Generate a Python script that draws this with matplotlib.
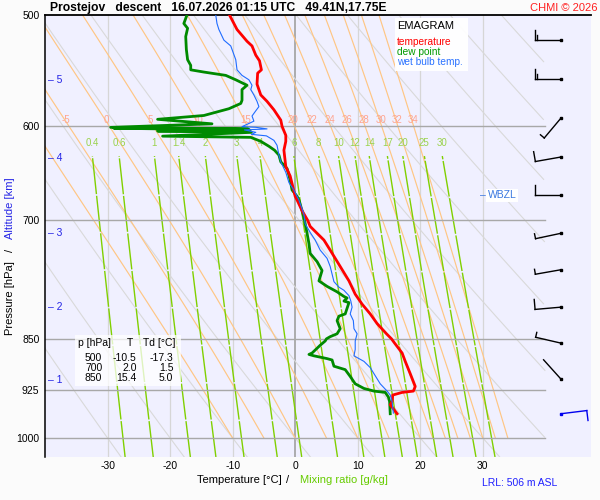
import numpy as np
import matplotlib
matplotlib.use("Agg")
import matplotlib.pyplot as plt
from matplotlib.lines import Line2D
from matplotlib.patches import Rectangle
from matplotlib.transforms import IdentityTransform
from matplotlib.ticker import NullLocator

plt.rcParams['font.family'] = ['Liberation Sans', 'DejaVu Sans']
plt.rcParams['axes.unicode_minus'] = False

# --- sounding profiles: pressure [hPa] / temperature [deg C] ---
temp_p = [500, 512, 522, 526, 534, 539, 547, 550, 560, 570, 576, 584, 594, 600,
          609, 615, 624, 641, 651, 659, 673, 677, 689, 700, 707, 715, 723, 735,
          755, 773, 790, 803, 816, 829, 843, 850, 856, 870, 882, 900, 919, 926,
          928, 932, 942, 947, 961]
temp_c = [-10.5, -9.3, -7.7, -6.9, -6.3, -5.7, -5.4, -6.0, -6.1, -5.5, -4.5, -3.4,
          -2.3, -2.1, -1.5, -1.5, -1.8, -1.5, -0.8, -0.5, 0.0, 0.3, 1.1, 2.0, 2.4,
          3.5, 4.6, 5.6, 7.2, 8.6, 9.6, 10.7, 12.0, 13.1, 14.6, 15.4, 15.9, 17.1,
          17.6, 18.4, 19.2, 18.9, 17.1, 15.6, 15.5, 15.2, 16.3]

dewp_p = [500, 507, 511, 518, 529, 538, 543, 547, 549, 552, 556, 561, 565, 575,
          578, 583, 589.5, 593.2, 597.6, 601.1, 602.7, 601.9, 603.9, 604.7, 606,
          609.8, 611, 615, 620, 624, 629, 636, 643, 650, 657, 666, 673, 677, 689,
          700, 715, 727, 739, 749, 760, 773, 780, 787, 793, 795, 799, 801, 816,
          819, 825, 836, 843, 847, 850, 853, 859, 870, 872, 874, 878, 880, 889,
          894, 904, 915, 922, 926, 928, 935, 942, 961]
dewp_c = [-17.3, -17.8, -17.2, -17.5, -17.4, -17.2, -16.7, -16.7, -14.6, -11.1,
          -9.5, -7.7, -8.5, -8.5, -8.7, -10.6, -14.6, -22.0, -13.3, -29.5, -7.5,
          -29.0, -7.2, -22.0, -7.0, -21.2, -7.1, -5.5, -4.2, -3.3, -2.6, -2.3,
          -1.3, -1.0, -0.75, -0.5, 0.3, 0.6, 1.1, 1.5, 1.9, 2.2, 2.4, 3.5, 4.3,
          3.8, 5.1, 6.7, 7.8, 8.3, 7.8, 8.6, 8.0, 7.0, 6.7, 7.2, 6.7, 5.6, 5.0,
          4.8, 4.0, 2.7, 2.2, 3.0, 5.1, 5.9, 6.2, 8.0, 8.8, 9.6, 11.0, 12.6, 14.4,
          14.9, 15.1, 15.2]

wetb_p = [500, 507, 512, 521, 526, 538, 547, 552, 556, 561, 565, 570, 576, 581,
          585, 590, 595, 600.4, 601, 602.6, 603.6, 606, 608, 609.5, 614, 619,
          629, 636, 647, 658, 666, 673, 677, 693, 704, 714, 723, 735, 745, 755,
          774, 781, 785, 792, 799, 807, 816, 825, 836, 843, 853, 865, 874, 882,
          891, 900, 915, 926, 932, 942, 960]
wetb_c = [-12.7, -12.5, -12.2, -11.4, -10.3, -9.5, -9.3, -8.5, -7.4, -6.9, -7.1,
          -6.6, -6.1, -5.8, -6.3, -6.9, -6.6, -8.5, -6.3, -4.5, -8.1, -6.3, -7.0,
          -4.6, -3.4, -2.9, -2.6, -2.3, -1.5, -1.0, -0.2, 0.3, 0.6, 1.4, 1.6, 2.4,
          3.2, 4.0, 5.1, 5.6, 6.2, 7.0, 7.8, 8.6, 8.9, 9.1, 8.8, 9.3, 9.4, 9.9,
          9.6, 9.6, 9.4, 11.0, 12.0, 12.6, 13.6, 14.7, 15.2, 15.5, 15.7]

# --- winds: pressure, direction [deg], speed [kt] ---
wind_p = [521, 555, 592, 631, 671, 715, 759, 807, 856, 908]
wind_dir = [270, 270, 220, 260, 270, 258, 260, 265, 283, 318]
wind_kt = [15, 15, 5, 10, 10, 5, 5, 10, 5, 2]
sfc_p, sfc_dir, sfc_kt = 961, 83, 10

# --- table ---
table_p = [500, 700, 850]
table_t = [-10.5, 2.0, 15.4]
table_td = [-17.3, 1.5, 5.0]

alt_km = [5, 4, 3, 2, 1]
alt_p = [556, 632, 715, 807, 909]
wbzl_p = 672

# --- diagram furniture ---
isobars = [600, 700, 850, 925, 1000]
isotherms = [-30, -20, -10, 0, 10, 20, 30]
dry_t0 = list(range(-30, 120, 10))
moist_t0 = [-10, -5, 0, 5, 10, 15, 20, 22, 24, 26, 28, 30, 32, 34]
moist_labeled = [-5, 0, 5, 10, 15, 20, 22, 24, 26, 28, 30, 32, 34]
mix_ratios = [0.4, 0.6, 1, 1.4, 2, 3, 4, 6, 8, 10, 12, 14, 17, 20, 25, 30]

P_BOT, P_TOP = 1031.6, 500
T_MIN, T_MAX, T_RIGHT = -40, 40, 47.3
barb_x = 42.5

RD, CP, LV, EPS = 287.04, 1005.7, 2.501e6, 0.622


def esat(tc):
    return 6.112 * np.exp(17.67 * tc / (tc + 243.5))


def moist_rate(tk, p):
    es = esat(tk - 273.15)
    rs = EPS * es / (p - es)
    return (RD * tk + LV * rs) / (p * (CP + LV ** 2 * rs * EPS / (RD * tk ** 2)))


def moist_adiabat(t0, pres):
    tk = [t0 + 273.15]
    for i in range(1, len(pres)):
        h = pres[i] - pres[i - 1]
        t, p = tk[-1], pres[i - 1]
        k1 = moist_rate(t, p)
        k2 = moist_rate(t + h * k1 / 2, p + h / 2)
        k3 = moist_rate(t + h * k2 / 2, p + h / 2)
        k4 = moist_rate(t + h * k3, p + h)
        tk.append(t + h * (k1 + 2 * k2 + 2 * k3 + k4) / 6)
    return np.array(tk) - 273.15


def mix_temp(w, p):
    e = w / 1000 * p / (EPS + w / 1000)
    lg = np.log(e / 6.112)
    return 243.5 * lg / (17.67 - lg)


fig = plt.figure(figsize=(6, 5), dpi=100, facecolor='#fbfbfb')
ax = fig.add_axes([45 / 600, 1 - 457 / 500, 546 / 600, 442 / 500])
ax.set_facecolor('#f0f0ff')
ax.set_yscale('log')
ax.set_xlim(T_MIN, T_RIGHT)
ax.set_ylim(P_BOT, P_TOP)

for s in ['right', 'bottom']:
    ax.spines[s].set_visible(False)
ax.spines['top'].set_linewidth(1.3)
ax.spines['left'].set_linewidth(1.1)

ax.set_yticks([500] + isobars)
ax.set_yticklabels([str(p) for p in [500] + isobars], fontsize=7.5)
ax.yaxis.set_minor_locator(NullLocator())
ax.set_xticks(isotherms)
ax.set_xticklabels([str(t) for t in isotherms], fontsize=7.5)
ax.tick_params(length=0, pad=4)
ax.tick_params(axis='x', pad=3)

# isotherms and isobars
for t in isotherms:
    ax.plot([t, t], [P_BOT, P_TOP], color='#a0a0a0' if t == 0 else '#d6d6d6',
            lw=1.2 if t == 0 else 0.9, zorder=1)
for p in isobars:
    ax.plot([T_MIN, T_MAX], [p, p], color='#a8a8a8', lw=1.0, zorder=1.5)

# dry adiabats
pp = np.geomspace(P_BOT, P_TOP, 200)
for t0 in dry_t0:
    tt = (t0 + 273.15) * (pp / 1000) ** 0.2857 - 273.15
    tt = np.where(tt > T_MAX, np.nan, tt)
    ax.plot(tt, pp, color='#d9d9d9', lw=0.8, zorder=1.2)

# saturated adiabats
pm = np.linspace(1000, P_TOP, 250)
for t0 in moist_t0:
    tt = moist_adiabat(t0, pm)
    ax.plot(tt, pm, color='#ffc684', lw=0.85, zorder=1.3)
    if t0 in moist_labeled:
        tl = np.interp(594, pm[::-1], tt[::-1])
        ax.text(tl + 0.2, 594, str(t0), color='#ffa48e', fontsize=7,
                ha='center', va='center', zorder=2)

# mixing ratio lines
pw = np.geomspace(P_BOT, 630, 60)
for w in mix_ratios:
    ax.plot(mix_temp(w, pw), pw, color='#80d000', lw=1.0,
            dashes=(26, 1.2), zorder=1.4)
    ax.text(mix_temp(w, 630), 617, '%g' % w, color='#9ad24c', fontsize=7,
            ha='center', va='center', zorder=2)

# profiles
ax.plot(dewp_c, dewp_p, color='#008a00', lw=2.0, zorder=4)
ax.plot(temp_c, temp_p, color='#ff0000', lw=2.0, zorder=5)
ax.plot(wetb_c, wetb_p, color='#1f6cff', lw=0.8, zorder=6)

# altitude marks and wet bulb zero
for km, p in zip(alt_km, alt_p):
    ax.text(-39.6, p, '\u2013 %d' % km, color='#2525e6', fontsize=7.5,
            va='center', ha='left', zorder=3)
ax.text(29.6, wbzl_p, '\u2013', color='#3a78e0', fontsize=7.5, va='center',
        ha='left', zorder=3)
ax.text(30.8, wbzl_p, 'WBZL', color='#3a78e0', fontsize=7.5, va='center',
        ha='left', zorder=3,
        bbox=dict(boxstyle='square,pad=0.15', fc='white', ec='none'))


def draw_barb(p, dd, kt, color):
    px, py = ax.transData.transform((barb_x, p))
    staff, full, half, gap = 26, 10, 5, 2.2
    r = np.deg2rad(dd)
    ux, uy = np.sin(r), np.cos(r)
    nx, ny = uy, -ux
    ex, ey = px + staff * ux, py + staff * uy
    segs = [([px, ex], [py, ey])]
    pos = 0
    ticks = [full] * int(kt // 10) + [half] * int((kt % 10) // 5)
    for ln in ticks:
        bx, by = ex - pos * ux, ey - pos * uy
        segs.append(([bx, bx + ln * nx], [by, by + ln * ny]))
        pos += gap
    for xs, ys in segs:
        fig.add_artist(Line2D(xs, ys, color=color, lw=1.0,
                              transform=IdentityTransform()))
    fig.add_artist(Line2D([px], [py], marker='s', ms=1.6, color=color,
                          transform=IdentityTransform()))


for p, dd, kt in zip(wind_p, wind_dir, wind_kt):
    draw_barb(p, dd, kt, 'black')
draw_barb(sfc_p, sfc_dir, sfc_kt, '#0000ee')

# legend box
fig.add_artist(Rectangle((395 / 600, 1 - 71 / 500), 73 / 600, 53 / 500,
                         transform=fig.transFigure, fc='white', ec='none', alpha=0.95))
fig.text(397 / 600, 1 - 26 / 500, 'EMAGRAM', fontsize=8, va='center')
fig.text(397 / 600, 1 - 42 / 500, 'temperature', color='#ff0000', fontsize=7.3, va='center')
fig.text(397 / 600, 1 - 52 / 500, 'dew point', color='#009a00', fontsize=7.3, va='center')
fig.text(397 / 600, 1 - 62 / 500, 'wet bulb temp.', color='#2a72ff', fontsize=7.3, va='center')

# table box
fig.add_artist(Rectangle((75 / 600, 1 - 386 / 500), 106 / 600, 51 / 500,
                         transform=fig.transFigure, fc='white', ec='none', alpha=0.75))
fig.text(78 / 600, 1 - 343 / 500, 'p [hPa]', fontsize=7.5, va='center')
fig.text(130 / 600, 1 - 343 / 500, 'T', fontsize=7.5, va='center', ha='center')
fig.text(143 / 600, 1 - 343 / 500, 'Td [\u00b0C]', fontsize=7.5, va='center')
for i, (p, t, td) in enumerate(zip(table_p, table_t, table_td)):
    y = 1 - (358.3 + 10 * i) / 500
    fig.text(102.3 / 600, y, str(p), fontsize=7.5, va='center', ha='right')
    fig.text(136.7 / 600, y, '%.1f' % t, fontsize=7.5, va='center', ha='right')
    fig.text(173.3 / 600, y, '%.1f' % td, fontsize=7.5, va='center', ha='right')

# titles and axis labels
fig.text(50 / 600, 1 - 8 / 500,
         'Prostejov   descent   16.07.2026 01:15 UTC   49.41N,17.75E',
         fontsize=8.7, fontweight='bold', va='center', ha='left')
fig.text(597 / 600, 1 - 8 / 500, 'CHMI \u00a9 2026', color='#ff2020',
         fontsize=8, va='center', ha='right')
fig.text(239 / 600, 1 - 480 / 500, 'Temperature [\u00b0C]', fontsize=8,
         va='center', ha='center')
fig.text(288 / 600, 1 - 480 / 500, '/', fontsize=8, va='center', ha='center')
fig.text(344 / 600, 1 - 480 / 500, 'Mixing ratio [g/kg]', color='#66cc00',
         fontsize=8, va='center', ha='center')
fig.text(520 / 600, 1 - 483 / 500, 'LRL: 506 m ASL', color='#2020ff',
         fontsize=7.5, va='center', ha='center')
fig.text(10 / 600, 1 - 298 / 500, 'Pressure [hPa]', fontsize=8, rotation=90,
         va='center', ha='center')
fig.text(10 / 600, 1 - 250 / 500, '/', fontsize=8, rotation=90,
         va='center', ha='center')
fig.text(10 / 600, 1 - 208 / 500, 'Altitude [km]', color='#2525e6', fontsize=8,
         rotation=90, va='center', ha='center')

fig.savefig('out.png', dpi=100, facecolor=fig.get_facecolor())
